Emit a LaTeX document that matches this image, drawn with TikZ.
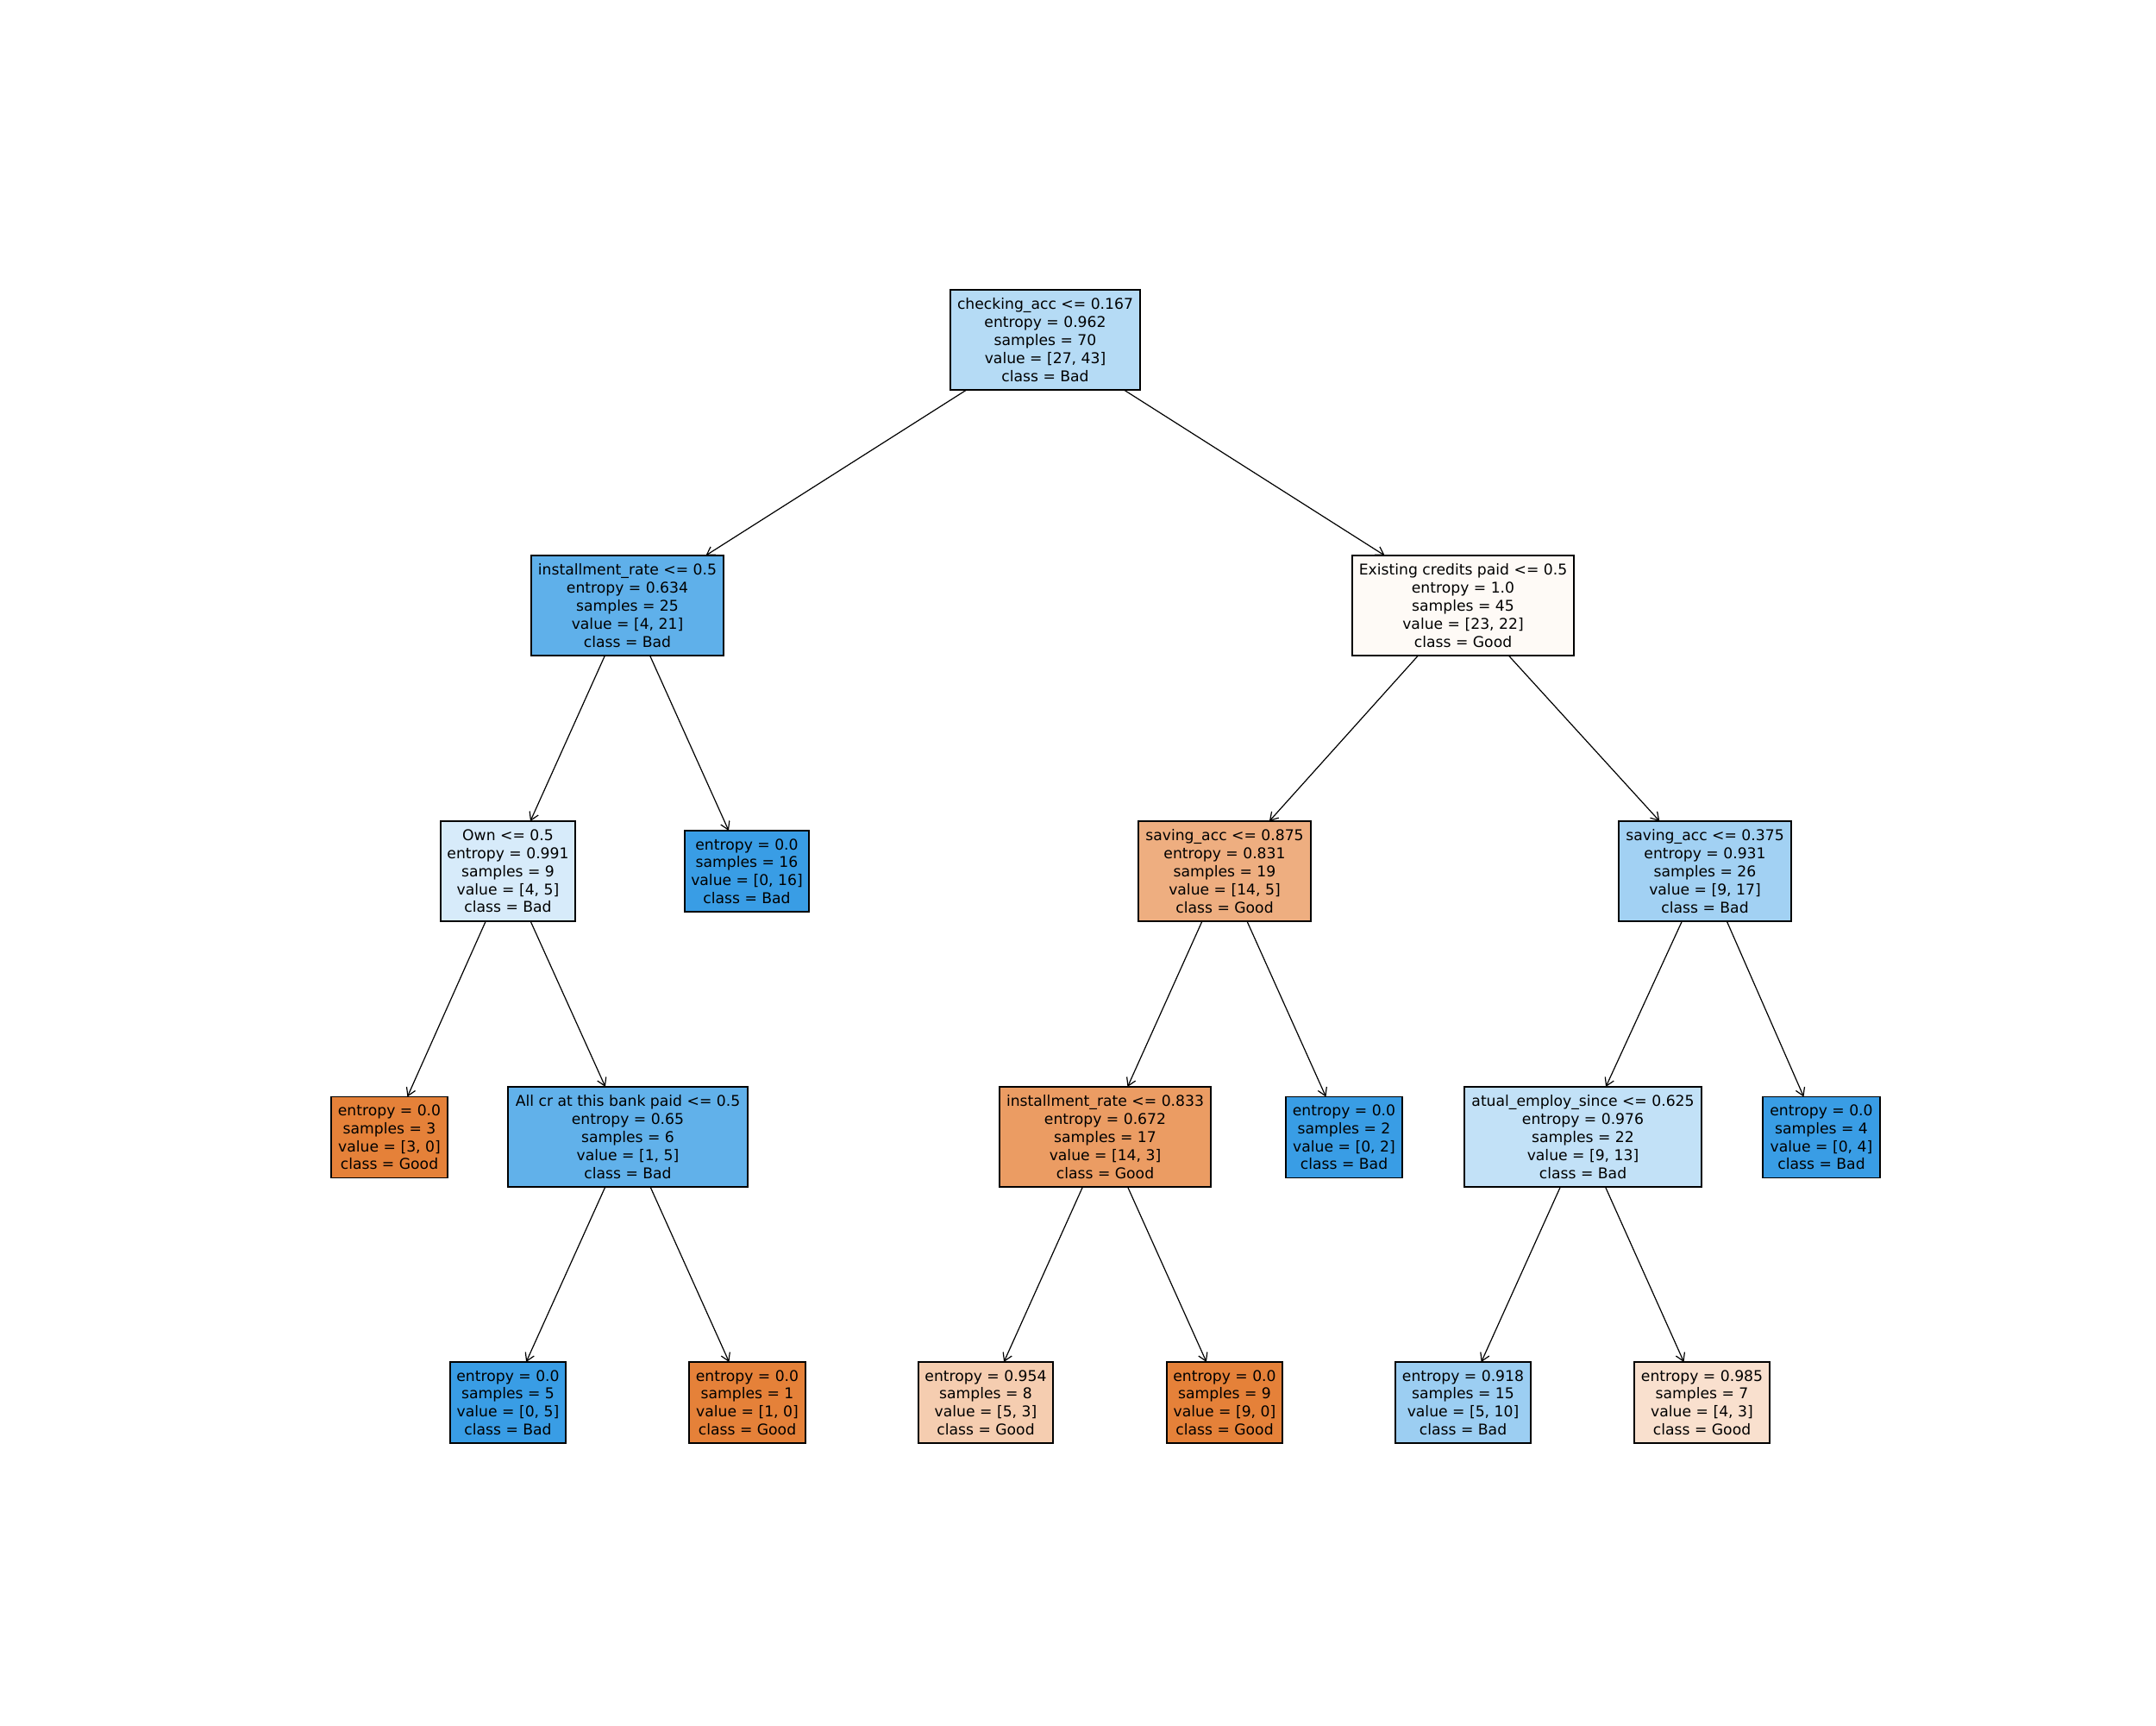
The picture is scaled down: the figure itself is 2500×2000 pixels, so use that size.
\documentclass[tikz,border=0pt]{standalone}
\usepackage{fontspec}
\setmainfont{DejaVu Sans}
\usetikzlibrary{arrows.meta}
\definecolor{c0}{RGB}{181,219,245}
\definecolor{c1}{RGB}{95,176,234}
\definecolor{c2}{RGB}{254,250,246}
\definecolor{c3}{RGB}{215,235,250}
\definecolor{cB}{RGB}{57,157,229}
\definecolor{cG}{RGB}{229,129,57}
\definecolor{c6}{RGB}{238,174,128}
\definecolor{c7}{RGB}{162,209,243}
\definecolor{c9}{RGB}{97,177,234}
\definecolor{c10}{RGB}{235,156,99}
\definecolor{c12}{RGB}{194,225,247}
\definecolor{c15}{RGB}{245,205,176}
\definecolor{c17}{RGB}{156,206,242}
\definecolor{c18}{RGB}{249,224,206}
\tikzset{
  tnode/.style={draw=black, line width=1.4pt, rectangle, inner sep=0pt, outer sep=0pt,
    align=center, minimum height=116pt,
    font=\fontsize{17.2pt}{20.8pt}\selectfont},
  leafnode/.style={tnode, minimum height=94pt},
  edge/.style={line width=1.2pt, -{Straight Barb[length=9pt,width=11pt,line width=1.2pt]}}
}
\begin{document}
\begin{tikzpicture}[x=1pt,y=-1pt]
\useasboundingbox (0,0) rectangle (2500,2000);
\node[tnode, fill=c0, minimum width=220pt] (root) at (1212,394) {checking\_acc <= 0.167\\entropy = 0.962\\samples = 70\\value = [27, 43]\\class = Bad};
\node[tnode, fill=c1, minimum width=223pt] (ir05) at (727.5,702) {installment\_rate <= 0.5\\entropy = 0.634\\samples = 25\\value = [4, 21]\\class = Bad};
\node[tnode, fill=c2, minimum width=257pt] (ecp) at (1696.5,702) {Existing credits paid <= 0.5\\entropy = 1.0\\samples = 45\\value = [23, 22]\\class = Good};
\node[tnode, fill=c3, minimum width=156pt] (own) at (589,1010) {Own <= 0.5\\entropy = 0.991\\samples = 9\\value = [4, 5]\\class = Bad};
\node[leafnode, fill=cB, minimum width=144pt] (l16) at (866,1010) {entropy = 0.0\\samples = 16\\value = [0, 16]\\class = Bad};
\node[tnode, fill=c6, minimum width=200pt] (sa875) at (1420,1010) {saving\_acc <= 0.875\\entropy = 0.831\\samples = 19\\value = [14, 5]\\class = Good};
\node[tnode, fill=c7, minimum width=200pt] (sa375) at (1977,1010) {saving\_acc <= 0.375\\entropy = 0.931\\samples = 26\\value = [9, 17]\\class = Bad};
\node[leafnode, fill=cG, minimum width=135pt] (l3) at (451.5,1318.5) {entropy = 0.0\\samples = 3\\value = [3, 0]\\class = Good};
\node[tnode, fill=c9, minimum width=278pt] (allcr) at (728,1318) {All cr at this bank paid <= 0.5\\entropy = 0.65\\samples = 6\\value = [1, 5]\\class = Bad};
\node[tnode, fill=c10, minimum width=245pt] (ir833) at (1281.5,1318) {installment\_rate <= 0.833\\entropy = 0.672\\samples = 17\\value = [14, 3]\\class = Good};
\node[leafnode, fill=cB, minimum width=135pt] (l2) at (1558.5,1318.5) {entropy = 0.0\\samples = 2\\value = [0, 2]\\class = Bad};
\node[tnode, fill=c12, minimum width=275pt] (aes) at (1835.5,1318) {atual\_employ\_since <= 0.625\\entropy = 0.976\\samples = 22\\value = [9, 13]\\class = Bad};
\node[leafnode, fill=cB, minimum width=136pt] (l4) at (2112,1318.5) {entropy = 0.0\\samples = 4\\value = [0, 4]\\class = Bad};
\node[leafnode, fill=cB, minimum width=134pt] (l5) at (589,1626) {entropy = 0.0\\samples = 5\\value = [0, 5]\\class = Bad};
\node[leafnode, fill=cG, minimum width=135pt] (l1) at (866.5,1626) {entropy = 0.0\\samples = 1\\value = [1, 0]\\class = Good};
\node[leafnode, fill=c15, minimum width=156pt] (l954) at (1143,1626) {entropy = 0.954\\samples = 8\\value = [5, 3]\\class = Good};
\node[leafnode, fill=cG, minimum width=134pt] (l9) at (1420,1626) {entropy = 0.0\\samples = 9\\value = [9, 0]\\class = Good};
\node[leafnode, fill=c17, minimum width=157pt] (l918) at (1696.5,1626) {entropy = 0.918\\samples = 15\\value = [5, 10]\\class = Bad};
\node[leafnode, fill=c18, minimum width=157pt] (l985) at (1973.5,1626) {entropy = 0.985\\samples = 7\\value = [4, 3]\\class = Good};
\draw[edge] (root) -- (ir05);
\draw[edge] (root) -- (ecp);
\draw[edge] (ir05) -- (own);
\draw[edge] (ir05) -- (l16);
\draw[edge] (ecp) -- (sa875);
\draw[edge] (ecp) -- (sa375);
\draw[edge] (own) -- (l3);
\draw[edge] (own) -- (allcr);
\draw[edge] (sa875) -- (ir833);
\draw[edge] (sa875) -- (l2);
\draw[edge] (sa375) -- (aes);
\draw[edge] (sa375) -- (l4);
\draw[edge] (allcr) -- (l5);
\draw[edge] (allcr) -- (l1);
\draw[edge] (ir833) -- (l954);
\draw[edge] (ir833) -- (l9);
\draw[edge] (aes) -- (l918);
\draw[edge] (aes) -- (l985);
\end{tikzpicture}
\end{document}
